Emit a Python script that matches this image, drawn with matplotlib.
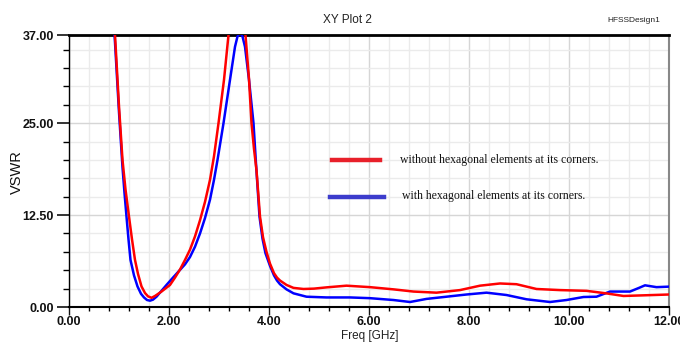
import matplotlib
matplotlib.use("Agg")
import matplotlib.pyplot as plt
from matplotlib.lines import Line2D
from matplotlib.ticker import MultipleLocator, FixedLocator

plt.rcParams['font.family'] = ['Liberation Sans', 'DejaVu Sans']

# Data (Freq in GHz, VSWR)
red_f = [0.88, 0.92, 1.0, 1.07, 1.13, 1.2, 1.26, 1.32, 1.38, 1.45, 1.52, 1.58, 1.65, 1.72, 1.85,
         2.02, 2.12, 2.22, 2.32, 2.42, 2.52, 2.62, 2.72, 2.82, 2.9, 2.99, 3.1, 3.19, 3.28, 3.36,
         3.45, 3.53, 3.6, 3.65, 3.7, 3.75, 3.82, 3.88, 3.95, 4.02, 4.1, 4.16, 4.22, 4.35, 4.49,
         4.69, 4.9, 5.15, 5.55, 6.02, 6.49, 6.89, 7.35, 7.82, 8.22, 8.62, 8.95, 9.35, 9.82,
         10.35, 10.75, 11.09, 11.55, 12.0]
red_v = [41.5, 37.0, 27.3, 20.0, 16.0, 12.3, 9.2, 6.4, 4.5, 2.8, 1.9, 1.45, 1.25, 1.5, 2.1,
         3.0, 4.0, 5.1, 6.4, 7.8, 9.6, 11.8, 14.3, 17.3, 20.5, 25.0, 30.9, 37.0, 42.0, 44.0,
         41.5, 37.0, 31.0, 25.0, 21.5, 18.6, 12.3, 9.5, 7.5, 5.9, 4.6, 4.0, 3.6, 3.0, 2.6,
         2.45, 2.5, 2.67, 2.9, 2.7, 2.4, 2.1, 1.95, 2.3, 2.9, 3.2, 3.1, 2.45, 2.3,
         2.2, 1.85, 1.5, 1.6, 1.7]

blue_f = [0.87, 0.92, 1.0, 1.07, 1.11, 1.15, 1.19, 1.23, 1.3, 1.37, 1.44, 1.5, 1.56, 1.62, 1.68,
          1.75, 1.85, 1.95, 2.08, 2.2, 2.32, 2.42, 2.52, 2.62, 2.72, 2.82, 2.9, 2.97, 3.09, 3.22,
          3.32, 3.37, 3.42, 3.47, 3.52, 3.6, 3.69, 3.74, 3.81, 3.87, 3.93, 4.02, 4.1, 4.16, 4.22,
          4.35, 4.49, 4.75, 5.15, 5.62, 6.02, 6.49, 6.82, 7.15, 7.55, 7.95, 8.35, 8.75,
          9.15, 9.62, 9.95, 10.29, 10.55, 10.82, 11.22, 11.4, 11.52, 11.75, 12.0]
blue_v = [41.0, 36.0, 26.5, 19.0, 15.5, 12.3, 9.2, 6.4, 4.3, 2.8, 1.8, 1.3, 0.95, 0.86, 1.0,
          1.4, 2.2, 3.0, 4.0, 4.9, 5.8, 6.8, 8.2, 10.0, 12.1, 14.6, 17.3, 20.0, 25.0, 30.9,
          35.4, 36.8, 37.3, 36.8, 35.4, 30.9, 25.0, 19.5, 12.3, 9.3, 7.3, 5.6, 4.3, 3.6, 3.1,
          2.4, 1.86, 1.4, 1.3, 1.3, 1.2, 0.95, 0.68, 1.1, 1.4, 1.7, 1.95, 1.63,
          1.05, 0.68, 0.95, 1.36, 1.4, 2.1, 2.1, 2.6, 2.95, 2.7, 2.77]

x_ticks = [0, 2, 4, 6, 8, 10, 12]
x_labels = ["0.00", "2.00", "4.00", "6.00", "8.00", "10.00", "12.00"]
y_ticks = [0, 12.5, 25, 37]
y_labels = ["0.00", "12.50", "25.00", "37.00"]
legend_labels = ["without hexagonal elements at its corners.",
                 "with hexagonal elements at its corners."]

W, H = 680, 345
fig = plt.figure(figsize=(W / 100, H / 100), dpi=100)
ax = fig.add_axes([69 / W, (H - 307) / H, 600 / W, 272 / H])

ax.plot(red_f, red_v, color='#ff0000', lw=1.8, zorder=4)
ax.plot(blue_f, blue_v, color='#0000ff', lw=1.8, zorder=3)

ax.set_xlim(0, 12)
ax.set_ylim(0, 37)

ax.set_xticks(x_ticks)
ax.set_xticklabels(x_labels)
ax.set_yticks(y_ticks)
ax.set_yticklabels(y_labels)
ax.xaxis.set_minor_locator(MultipleLocator(0.4))
ax.yaxis.set_minor_locator(FixedLocator([2.5, 5, 7.5, 10, 15, 17.5, 20, 22.5, 27.5, 30, 32.5, 35]))

ax.grid(which='major', color='#d6d6d6', lw=1.0, zorder=0)
ax.grid(which='minor', color='#ebebeb', lw=1.0, zorder=0)
ax.set_axisbelow(True)

ax.tick_params(axis='x', which='major', direction='out', length=6, width=1, pad=0.5,
               labelsize=9, colors='#111111')
ax.tick_params(axis='x', which='minor', direction='out', length=3, width=1)
ax.tick_params(axis='y', which='major', direction='out', length=9, width=1.2, pad=2,
               labelsize=9, colors='#111111')
ax.tick_params(axis='y', which='minor', direction='out', length=4, width=1)

ax.spines['top'].set_linewidth(2.0)
ax.spines['top'].set_color('black')
ax.spines['bottom'].set_linewidth(1.5)
ax.spines['left'].set_linewidth(1.0)
ax.spines['right'].set_color('#888888')
ax.spines['right'].set_linewidth(1.5)

for lab in ax.get_xticklabels() + ax.get_yticklabels():
    lab.set_fontweight('bold')

fig.text(347 / W, (H - 20) / H, "XY Plot 2", ha='center', va='center', fontsize=8.5, color='#222222')
fig.text(607 / W, (H - 20) / H, "HFSSDesign1", ha='left', va='center', fontsize=6, color='#222222')
fig.text(370 / W, (H - 336) / H, "Freq [GHz]", ha='center', va='center', fontsize=8.5, color='#222222')
fig.text(17 / W, (H - 172) / H, "VSWR", ha='center', va='center', rotation=90, fontsize=10.5,
         color='#111111')

# Legend drawn manually
fig.add_artist(Line2D([332 / W, 380 / W], [(H - 160) / H] * 2, color='#e8202a', lw=3.2))
fig.add_artist(Line2D([330 / W, 384 / W], [(H - 197) / H] * 2, color='#3c3ccc', lw=3.2))
fig.text(400 / W, (H - 160) / H, legend_labels[0], ha='left', va='center', fontsize=8.5,
         family=['Liberation Serif'], color='#111111')
fig.text(402 / W, (H - 196) / H, legend_labels[1], ha='left', va='center', fontsize=8.5,
         family=['Liberation Serif'], color='#111111')

fig.savefig("out.png", dpi=100)
